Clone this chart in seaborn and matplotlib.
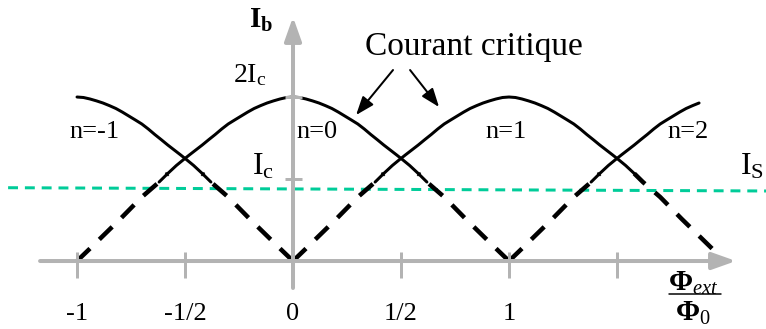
import matplotlib
matplotlib.use("Agg")
import matplotlib.pyplot as plt
import seaborn as sns
import numpy as np

# ---------------- data ----------------
branch_n = [-1, 0, 1, 2]
branch_labels = ["n=-1", "n=0", "n=1", "n=2"]
# half profile of one critical-current branch: offset from n (in Phi0) -> I (in Ic)
half_offset = [0.0, 0.03, 0.06, 0.09, 0.12, 0.15, 0.18, 0.21, 0.24, 0.27, 0.30, 0.33,
               0.36, 0.39, 0.42, 0.45, 0.48, 0.51, 0.54, 0.58,
               0.62, 0.70, 0.80, 0.94, 1.0]
half_current = [2.0, 1.994, 1.976, 1.953, 1.927, 1.895, 1.86, 1.816, 1.768, 1.72,
                1.671, 1.61, 1.543, 1.48, 1.415, 1.354, 1.293, 1.23, 1.165,
                1.067, 0.963, 0.78, 0.512, 0.152, 0.0]
# visible extent of each branch
solid_from = [0.0, -0.62, -0.62, -0.62]
solid_to = [0.62, 0.62, 0.62, -0.12]
dash_left_start = [None, -1.0, -1.0, -1.0]
dash_right_end = [1.0, 1.0, 0.94, None]
dash_join = 0.58
# I_S level line
is_phi = [-1.319, 2.19]
is_current = [0.894, 0.854]
# ticks
xtick_values = [-1, -0.5, 0, 0.5, 1, 1.5]
xtick_labels = ["-1", "-1/2", "0", "1/2", "1", ""]
ytick_values = [1, 2]

# ---------------- style ----------------
sns.set_style("white")
plt.rcParams["font.family"] = ["Liberation Serif", "DejaVu Serif"]
plt.rcParams["text.color"] = "black"
plt.rcParams["mathtext.fontset"] = "custom"
plt.rcParams["mathtext.rm"] = "Liberation Serif"
plt.rcParams["mathtext.it"] = "Liberation Serif:italic"
plt.rcParams["mathtext.bf"] = "Liberation Serif:bold"

GRAY = "#b3b3b3"
GREEN = "#00cc99"
PX = 0.72  # points per pixel at 100 dpi

fig = plt.figure(figsize=(7.66, 3.29), dpi=100)
ax = fig.add_axes([0, 0, 1, 1])
ax.set_xlim(-1.3565, 2.1898)
ax.set_ylim(-0.829, 3.183)
ax.axis("off")

off = np.array([-o for o in half_offset[::-1]] + half_offset[1:])
cur = np.array(half_current[::-1] + half_current[1:])
eps = 1e-9

for i, n in enumerate(branch_n):
    m = (off >= solid_from[i] - eps) & (off <= solid_to[i] + eps)
    sns.lineplot(x=n + off[m], y=cur[m], sort=False, estimator=None, ax=ax,
                 color="black", lw=3 * PX, zorder=3, solid_joinstyle="round")
    if dash_left_start[i] is not None:
        m = (off >= dash_left_start[i] - eps) & (off <= -dash_join + eps)
        sns.lineplot(x=n + off[m], y=cur[m], sort=False, estimator=None, ax=ax,
                     color="black", lw=4.5 * PX, linestyle=(0, (4.0, 2.9)),
                     dash_capstyle="butt", zorder=3)
    if dash_right_end[i] is not None:
        m = (off >= dash_join - eps) & (off <= dash_right_end[i] + eps)
        sns.lineplot(x=(n + off[m])[::-1], y=cur[m][::-1], sort=False, estimator=None,
                     ax=ax, color="black", lw=4.5 * PX, linestyle=(0, (4.0, 2.9)),
                     dash_capstyle="butt", zorder=3)

sns.lineplot(x=is_phi, y=is_current, sort=False, estimator=None, ax=ax,
             color=GREEN, lw=3 * PX, linestyle=(0, (3.3, 2.3)),
             dash_capstyle="butt", zorder=2)

# axes with arrows
ax.annotate("", xy=(2.051, 0), xytext=(-1.171, 0),
            arrowprops=dict(arrowstyle="-|>,head_length=0.9,head_width=0.32",
                            color=GRAY, lw=4 * PX, mutation_scale=16,
                            shrinkA=0, shrinkB=0), zorder=5)
ax.annotate("", xy=(0, 2.976), xytext=(0, -0.329),
            arrowprops=dict(arrowstyle="-|>,head_length=0.9,head_width=0.32",
                            color=GRAY, lw=4 * PX, mutation_scale=16,
                            shrinkA=0, shrinkB=0), zorder=5)
for xv in xtick_values:
    if xv != 0:
        ax.plot([xv, xv], [0.11, -0.21], color=GRAY, lw=3 * PX, zorder=5,
                solid_capstyle="butt")
for yv in ytick_values:
    ax.plot([-0.037, 0.042], [yv, yv], color=GRAY, lw=3 * PX, zorder=5,
            solid_capstyle="butt")

for xv, lab in zip(xtick_values, xtick_labels):
    ax.text(xv, -0.72, lab, ha="center", va="baseline", fontsize=19, color="black")

# texts
for n, lab, px_ in zip(branch_n, branch_labels, [-0.921, 0.113, 0.986, 1.829]):
    ax.text(px_, 1.5, lab, ha="center", va="baseline", fontsize=19, color="black")

ax.text(0.838, 2.512, "Courant critique", ha="center", va="baseline", fontsize=24,
        color="black")
ax.text(-0.278, 2.18, r"$\mathrm{2I_c}$", ha="left", va="baseline", fontsize=20,
        color="black")
ax.text(-0.19, 1.05, r"$\mathrm{I_c}$", ha="left", va="baseline", fontsize=23,
        color="black")
ax.text(-0.205, 2.84, r"$\mathbf{I_b}$", ha="left", va="baseline", fontsize=21,
        color="black")
ax.text(2.07, 1.05, r"$\mathrm{I_S}$", ha="left", va="baseline", fontsize=23,
        color="black")

ax.text(1.852, -0.366, r"$\mathbf{\Phi}_{\mathit{ext}}$", ha="center", va="baseline",
        fontsize=21, color="black")
ax.text(1.852, -0.73, r"$\mathbf{\Phi}_{\mathrm{0}}$", ha="center", va="baseline",
        fontsize=21, color="black")
ax.plot([1.741, 1.981], [-0.402, -0.402], color="black", lw=1.5 * PX)

# annotation arrows
for start, end in [((0.463, 2.329), (0.292, 1.78)), ((0.542, 2.329), (0.676, 1.878))]:
    ax.annotate("", xy=end, xytext=start,
                arrowprops=dict(arrowstyle="-|>,head_length=0.8,head_width=0.3",
                                color="black", lw=2 * PX, mutation_scale=14,
                                shrinkA=0, shrinkB=0))

fig.savefig("out.png", dpi=100)
